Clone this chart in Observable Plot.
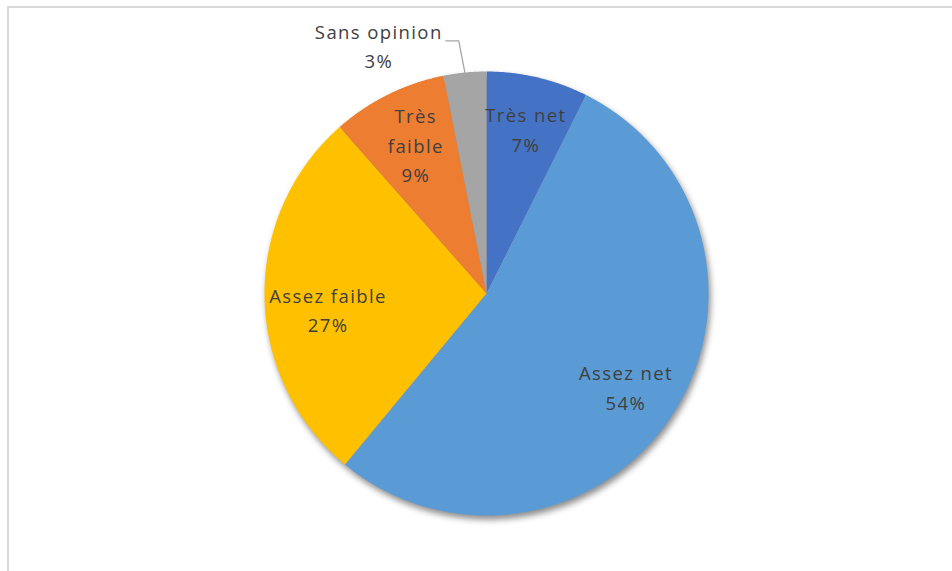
<!DOCTYPE html>
<html>
<head>
<meta charset="utf-8">
<script src="https://cdn.jsdelivr.net/npm/d3@7"></script>
<script src="https://cdn.jsdelivr.net/npm/@observablehq/plot@0.6"></script>
<style>
  html, body { margin: 0; padding: 0; background: #fff; }
  #wrap { position: relative; width: 952px; height: 571px; overflow: hidden; }
  #frame { position: absolute; left: 7px; top: 6px; right: -10px; bottom: -10px;
           border-top: 2px solid #d9d9d9; border-left: 2px solid #d9d9d9; pointer-events: none; }
  svg g.slices { filter: drop-shadow(2px 4px 3px rgba(0,0,0,0.45)); }
  svg text { letter-spacing: 1.4px; }
</style>
</head>
<body>
<div id="wrap"><div id="frame"></div><div id="chart"></div></div>
<script>
const categories = ["Très net", "Assez net", "Assez faible", "Très faible", "Sans opinion"];
const values = [7.4, 53.6, 27.5, 8.4, 3.1];
const percentLabels = ["7%", "54%", "27%", "9%", "3%"];
const nameLabels = ["Très net", "Assez net", "Assez faible", "Très\nfaible", "Sans opinion"];
const colors = ["#4472C4", "#5B9BD5", "#FFC000", "#ED7D31", "#A5A5A5"];

// layout settings (not data)
const cx = 486, cy = 293, R = 222;
const W = 952, H = 571;
const labelNudge = [[1, -4], [0, 1], [8, 12], [3, -1], [0, 0]];

const arcs = d3.pie().sort(null).value(d => d)(values);

const slicePts = [];
arcs.forEach((a, i) => {
  const cat = categories[i];
  slicePts.push({cat, x: 0, y: 0});
  const n = Math.max(4, Math.ceil((a.endAngle - a.startAngle) / 0.005));
  for (let k = 0; k <= n; k++) {
    const t = a.startAngle + (a.endAngle - a.startAngle) * k / n;
    slicePts.push({cat, x: Math.sin(t), y: Math.cos(t)});
  }
  slicePts.push({cat, x: 0, y: 0});
});

const inside = [];
const outside = [];
arcs.forEach((a, i) => {
  const mid = (a.startAngle + a.endAngle) / 2;
  const text = nameLabels[i] + "\n" + percentLabels[i];
  if (values[i] < 5) {
    outside.push({i, mid, text});
  } else {
    const r = 0.75;
    inside.push({x: r * Math.sin(mid), y: r * Math.cos(mid), text, dx: labelNudge[i][0], dy: labelNudge[i][1]});
  }
});

const leaders = [];
const outLabels = [];
outside.forEach(o => {
  const p1 = {x: Math.sin(o.mid), y: Math.cos(o.mid)};
  const r2 = 1.145;
  const p2 = {x: Math.sin(o.mid - 0.012) * r2, y: Math.cos(o.mid - 0.012) * r2};
  const p3 = {x: p2.x - 13 / R, y: p2.y};
  leaders.push({k: o.i, ...p1}, {k: o.i, ...p2}, {k: o.i, ...p3});
  outLabels.push({x: p3.x, y: p3.y, text: o.text});
});

const textStyle = {fill: "#404040", fontSize: 18.5, lineHeight: 1.6};

const plot = Plot.plot({
  width: W,
  height: H,
  margin: 0,
  x: {domain: [-1, 1], range: [cx - R, cx + R], axis: null},
  y: {domain: [-1, 1], range: [cy + R, cy - R], axis: null},
  color: {domain: categories, range: colors},
  style: {fontFamily: "'Open Sans', sans-serif"},
  marks: [
    Plot.line(slicePts, {x: "x", y: "y", z: "cat", fill: "cat", stroke: "none", curve: "linear"}),
    Plot.line(leaders, {x: "x", y: "y", z: "k", stroke: "#a6a6a6", strokeWidth: 1.3}),
    ...inside.map(d => Plot.text([d], {x: "x", y: "y", text: "text", dx: d.dx, dy: d.dy, ...textStyle})),
    Plot.text(outLabels, {x: "x", y: "y", text: "text", textAnchor: "middle", dx: -67, dy: 3, ...textStyle})
  ]
});
plot.querySelector('g[aria-label="line"]').classList.add("slices");
document.getElementById("chart").appendChild(plot);
</script>
</body>
</html>
